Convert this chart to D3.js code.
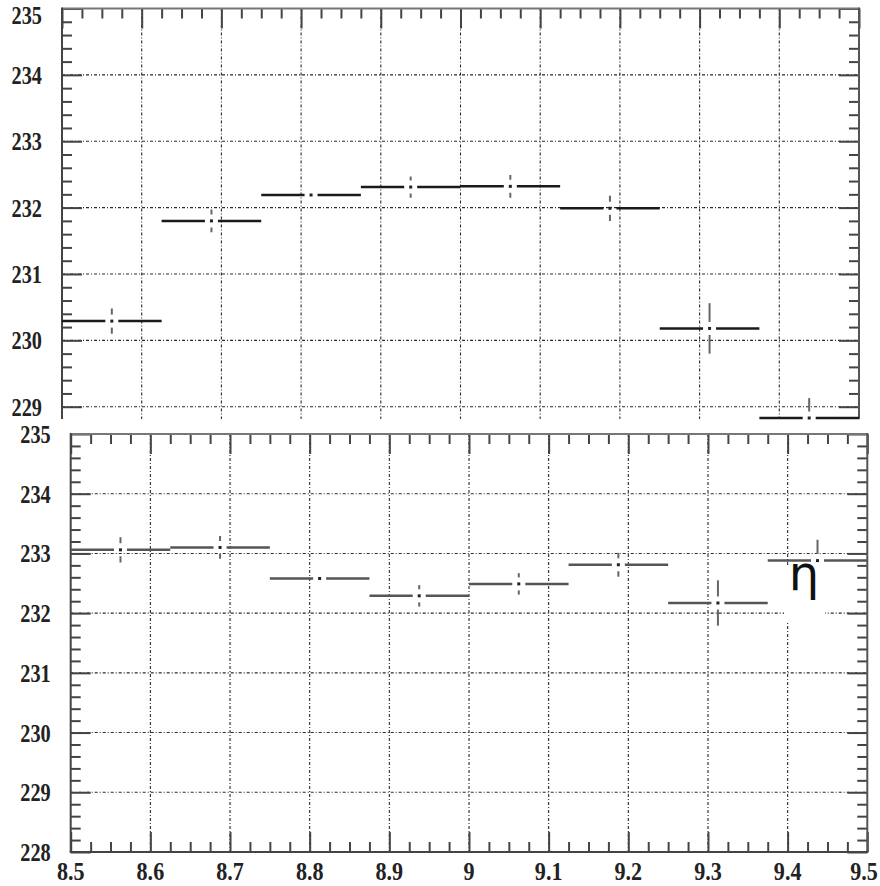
<!doctype html>
<html>
<head>
<script src="https://cdnjs.cloudflare.com/ajax/libs/d3/7.8.5/d3.min.js"></script>
<style>
body { margin: 0; background: #fff; }
.grid { stroke: #2a2a2a; stroke-width: 1.1; stroke-dasharray: 3,2,1,2; }
</style>
</head>
<body>
<svg width="880" height="886"></svg>
<script>
// bin edges (x) and values of the two panels
var binEdges = [8.5, 8.625, 8.75, 8.875, 9.0, 9.125, 9.25, 9.375, 9.5];
var topValues = [230.29, 231.80, 232.19, 232.31, 232.32, 231.99, 230.18, 228.83];
var topErrors = [0.19, 0.17, 0.05, 0.16, 0.17, 0.19, 0.38, 0.30];
var bottomValues = [233.06, 233.10, 232.58, 232.29, 232.49, 232.81, 232.17, 232.88];
var bottomErrors = [0.21, 0.19, 0.05, 0.18, 0.18, 0.20, 0.38, 0.35];

var xTicks = [8.5, 8.6, 8.7, 8.8, 8.9, 9.0, 9.1, 9.2, 9.3, 9.4, 9.5];
var xTickLabels = ["8.5", "8.6", "8.7", "8.8", "8.9", "9", "9.1", "9.2", "9.3", "9.4", "9.5"];
var topYTicks = [229, 230, 231, 232, 233, 234, 235];
var bottomYTicks = [228, 229, 230, 231, 232, 233, 234, 235];

var svg = d3.select("svg");
var serif = "'Liberation Serif', 'Times New Roman', 'DejaVu Serif', serif";

function labelStyle(sel) {
  sel.style("font-family", serif)
    .style("font-weight", "bold")
    .style("font-size", "26px")
    .style("fill", "#222");
}

function drawPanel(p) {
  var x = d3.scaleLinear().domain([8.5, 9.5]).range([p.left, p.right]);
  var y = d3.scaleLinear().domain(p.yDomain).range([p.bottom, p.top]);
  var g = svg.append("g");

  var xMinor = d3.range(0, 41).map(i => 8.5 + i * 0.025).filter(v => !xTicks.some(t => Math.abs(t - v) < 1e-6));
  var yMinor = d3.range(Math.ceil(p.yDomain[0] * 5 - 1e-6), Math.floor(p.yDomain[1] * 5 + 1e-6) + 1)
    .map(i => i / 5).filter(v => !p.yTicks.some(t => Math.abs(t - v) < 1e-6));

  // grid
  g.selectAll("line.gx").data(xTicks.slice(1, -1)).enter().append("line")
    .attr("class", "grid")
    .attr("x1", d => x(d)).attr("x2", d => x(d))
    .attr("y1", p.top).attr("y2", p.bottom);
  g.selectAll("line.gy").data(p.yTicks.filter(v => v > p.yDomain[0] && v < p.yDomain[1])).enter().append("line")
    .attr("class", "grid")
    .attr("y1", d => y(d)).attr("y2", d => y(d))
    .attr("x1", p.left).attr("x2", p.right);

  // axes with inward ticks
  function addAxis(axisFn, scale, vals, size, transform) {
    var a = g.append("g").attr("transform", transform)
      .call(axisFn(scale).tickValues(vals).tickSize(-size).tickSizeOuter(0).tickFormat(""));
    a.selectAll("path").remove();
    a.selectAll("line").attr("stroke", "#444").attr("stroke-width", 2);
  }
  var sides = [
    [d3.axisTop, x, "translate(0," + p.top + ")"],
    [d3.axisLeft, y, "translate(" + p.left + ",0)"],
    [d3.axisRight, y, "translate(" + p.right + ",0)"]
  ];
  if (p.bottomAxis) sides.push([d3.axisBottom, x, "translate(0," + p.bottom + ")"]);
  sides.forEach(s => {
    var isX = s[1] === x;
    addAxis(s[0], s[1], isX ? xTicks : p.yTicks.filter(v => v >= p.yDomain[0]), 20, s[2]);
    addAxis(s[0], s[1], isX ? xMinor : yMinor, 10, s[2]);
  });

  // frame
  g.append("line").attr("x1", p.left).attr("x2", p.right).attr("y1", p.top).attr("y2", p.top)
    .attr("stroke", "#777").attr("stroke-width", 2);
  g.append("line").attr("x1", p.left).attr("x2", p.left).attr("y1", p.top - 1).attr("y2", p.bottom)
    .attr("stroke", "#444").attr("stroke-width", 2);
  g.append("line").attr("x1", p.right).attr("x2", p.right).attr("y1", p.top - 1).attr("y2", p.bottom)
    .attr("stroke", "#555").attr("stroke-width", 2);
  if (p.bottomAxis) {
    g.append("line").attr("x1", p.left - 1).attr("x2", p.right + 1).attr("y1", p.bottom).attr("y2", p.bottom)
      .attr("stroke", "#444").attr("stroke-width", 2);
  }

  // y labels
  g.selectAll("text.yl").data(p.yTicks).enter().append("text")
    .attr("text-anchor", "end")
    .attr("transform", d => "translate(" + (p.left - 20) + "," + Math.max(y(d) + 9, 24) + ") scale(0.78,1)")
    .call(labelStyle)
    .text(d => d);

  // data: horizontal bin bars with a gap at the centre, vertical error bars, dot marker
  var bins = p.values.map((v, i) => ({ x0: binEdges[i], x1: binEdges[i + 1], v: v, e: p.errors[i] }));
  var gap = 6.5;
  var data = g.append("g").attr("clip-path", "url(#" + p.clip + ")");
  svg.append("clipPath").attr("id", p.clip).append("rect")
    .attr("x", p.left).attr("y", p.top).attr("width", p.right - p.left).attr("height", p.bottom - p.top + 1);

  var pt = data.selectAll("g.bin").data(bins).enter().append("g").attr("class", "bin");
  pt.append("line")
    .attr("x1", d => x(d.x0)).attr("x2", d => x((d.x0 + d.x1) / 2) - gap)
    .attr("y1", d => y(d.v)).attr("y2", d => y(d.v))
    .attr("stroke", p.barColor).attr("stroke-width", 2.5);
  pt.append("line")
    .attr("x1", d => x((d.x0 + d.x1) / 2) + gap).attr("x2", d => x(d.x1))
    .attr("y1", d => y(d.v)).attr("y2", d => y(d.v))
    .attr("stroke", p.barColor).attr("stroke-width", 2.5);
  pt.filter(d => y(d.v - d.e) - y(d.v) > gap).append("line")
    .attr("x1", d => x((d.x0 + d.x1) / 2)).attr("x2", d => x((d.x0 + d.x1) / 2))
    .attr("y1", d => y(d.v + d.e)).attr("y2", d => y(d.v) - gap)
    .attr("stroke", "#666").attr("stroke-width", 2);
  pt.filter(d => y(d.v - d.e) - y(d.v) > gap).append("line")
    .attr("x1", d => x((d.x0 + d.x1) / 2)).attr("x2", d => x((d.x0 + d.x1) / 2))
    .attr("y1", d => y(d.v) + gap).attr("y2", d => y(d.v - d.e))
    .attr("stroke", "#666").attr("stroke-width", 2);
  pt.append("rect")
    .attr("x", d => x((d.x0 + d.x1) / 2) - 1.5).attr("y", d => y(d.v) - 1.5)
    .attr("width", 3).attr("height", 3).attr("fill", "#222");

  return { x: x, y: y, g: g };
}

drawPanel({
  left: 62, right: 859, top: 8.5, bottom: 419,
  yDomain: [228.815, 235], yTicks: topYTicks,
  values: topValues, errors: topErrors,
  bottomAxis: false, barColor: "#1a1a1a", clip: "clipTop"
});

var bottomPanel = drawPanel({
  left: 70.7, right: 867.3, top: 434, bottom: 852,
  yDomain: [228, 235], yTicks: bottomYTicks,
  values: bottomValues, errors: bottomErrors,
  bottomAxis: true, barColor: "#555", clip: "clipBottom"
});

// x labels under the bottom panel
bottomPanel.g.selectAll("text.xl").data(xTicks).enter().append("text")
  .attr("text-anchor", "middle")
  .attr("transform", d => "translate(" + Math.min(bottomPanel.x(d), 864) + ",880) scale(0.85,1)")
  .call(labelStyle)
  .text((d, i) => xTickLabels[i]);

// eta label with white box
bottomPanel.g.append("rect")
  .attr("x", 784).attr("y", 566).attr("width", 41).attr("height", 56)
  .attr("fill", "#fff");
bottomPanel.g.append("text")
  .attr("x", 804).attr("y", 590)
  .attr("text-anchor", "middle")
  .style("font-family", "DejaVu Sans, sans-serif")
  .style("font-size", "48px")
  .style("fill", "#111")
  .text("η");
</script>
</body>
</html>
